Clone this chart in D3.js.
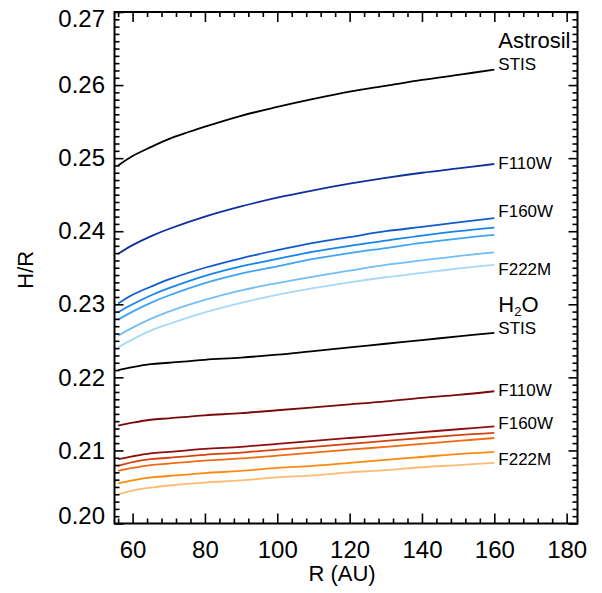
<!DOCTYPE html>
<html><head><meta charset="utf-8">
<script src="https://cdn.jsdelivr.net/npm/d3@7"></script>
<style>
html,body{margin:0;padding:0;background:#fff;}
text{font-family:"Liberation Sans",Arial,Helvetica,sans-serif;fill:#000;}
</style></head>
<body><svg id="c" width="602" height="593"></svg>
<script>
// ---- data ----
const radius = [56,60,65,70,80,90,100,110,120,130,140,150,160];
const astroSTIS  = [0.2490,0.2503,0.2515,0.2526,0.2543,0.2558,0.2570,0.2581,0.2591,0.2599,0.2607,0.2614,0.2621];
const astroF110W = [0.2369,0.2381,0.2393,0.2403,0.2420,0.2434,0.2446,0.2456,0.2465,0.2473,0.2480,0.2486,0.2492];
const astroF160W = [0.2301,0.2313,0.2324,0.2334,0.2350,0.2363,0.2374,0.2384,0.2392,0.2400,0.2406,0.2412,0.2418];
const astroB4    = [0.2289,0.2300,0.2312,0.2322,0.2339,0.2352,0.2362,0.2372,0.2380,0.2387,0.2394,0.2400,0.2405];
const astroB5    = [0.2279,0.2290,0.2302,0.2312,0.2329,0.2342,0.2352,0.2362,0.2370,0.2377,0.2384,0.2390,0.2395];
const astroB6    = [0.2257,0.2268,0.2280,0.2290,0.2306,0.2319,0.2329,0.2338,0.2346,0.2354,0.2360,0.2366,0.2371];
const astroF222M = [0.2241,0.2252,0.2264,0.2273,0.2289,0.2302,0.2313,0.2322,0.2330,0.2337,0.2343,0.2349,0.2354];
const h2oSTIS    = [0.2210,0.2214,0.2218,0.2220,0.2224,0.2227,0.2231,0.2236,0.2241,0.2246,0.2251,0.2256,0.2261];
const h2oF110W   = [0.2134,0.2138,0.2142,0.2144,0.2148,0.2151,0.2155,0.2159,0.2163,0.2167,0.2172,0.2176,0.2181];
const h2oF160W   = [0.2088,0.2092,0.2096,0.2098,0.2102,0.2105,0.2109,0.2113,0.2117,0.2121,0.2125,0.2129,0.2133];
const h2oB4      = [0.2079,0.2084,0.2088,0.2090,0.2094,0.2097,0.2101,0.2105,0.2109,0.2113,0.2117,0.2121,0.2124];
const h2oB5      = [0.2072,0.2076,0.2080,0.2082,0.2086,0.2089,0.2093,0.2097,0.2101,0.2105,0.2109,0.2113,0.2117];
const h2oB6      = [0.2055,0.2059,0.2063,0.2065,0.2069,0.2072,0.2076,0.2079,0.2083,0.2087,0.2091,0.2095,0.2098];
const h2oF222M   = [0.2040,0.2045,0.2049,0.2052,0.2056,0.2059,0.2063,0.2066,0.2070,0.2073,0.2077,0.2080,0.2083];

const seriesList = [
  {v: astroSTIS,  c:"#000000"},
  {v: astroF110W, c:"#0e2f9e"},
  {v: astroF160W, c:"#115ccc"},
  {v: astroB4,    c:"#1686ec"},
  {v: astroB5,    c:"#40a4f5"},
  {v: astroB6,    c:"#72bff7"},
  {v: astroF222M, c:"#a7d9f8"},
  {v: h2oSTIS,    c:"#000000"},
  {v: h2oF110W,   c:"#7a0a0a"},
  {v: h2oF160W,   c:"#8c0e0e"},
  {v: h2oB4,      c:"#d6420e"},
  {v: h2oB5,      c:"#f06c12"},
  {v: h2oB6,      c:"#ff8a10"},
  {v: h2oF222M,   c:"#ffbb74"}
];

const xTicks = [60,80,100,120,140,160,180];
const yTicks = [0.20,0.21,0.22,0.23,0.24,0.25,0.26,0.27];
const yTickLabels = ["0.20","0.21","0.22","0.23","0.24","0.25","0.26","0.27"];

// annotation labels: text, size, anchor value (H/R at baseline)
const annotations = [
  {t:"Astrosil", s:22, v:0.2651},
  {t:"STIS",  s:17, v:0.2621},
  {t:"F110W", s:17, v:0.2485},
  {t:"F160W", s:17, v:0.2420},
  {t:"F222M", s:17, v:0.2340},
  {t:"H2O",   s:22, v:0.2289},
  {t:"STIS",  s:17, v:0.2260},
  {t:"F110W", s:17, v:0.2174},
  {t:"F160W", s:17, v:0.2129},
  {t:"F222M", s:17, v:0.2080}
];

// ---- layout ----
const L = 114.5, Rr = 577.5, T = 12, B = 523.5;
const x = d3.scaleLinear().domain([55,183]).range([L,Rr]);
const y = d3.scaleLinear().domain([0.20,0.27]).range([B,T]);
const svg = d3.select("#c");

// lines
const line = d3.line().x((d,i)=>x(radius[i])).y(d=>y(d)).curve(d3.curveCatmullRom.alpha(0.5));
svg.append("g").selectAll("path").data(seriesList).join("path")
  .attr("d", d=>line(d.v)).attr("fill","none")
  .attr("stroke", d=>d.c).attr("stroke-width",1.8);

// minor ticks
const xMinor = d3.range(56,181,4).filter(v=>!xTicks.includes(v));
const yMinor = d3.range(201,270,1).filter(v=>v%10!==0).map(v=>v/1000);

function axisG(axis, tx, ty){
  const g = svg.append("g").attr("transform",`translate(${tx},${ty})`).call(axis);
  g.select(".domain").remove();
  g.selectAll("line").attr("stroke","#000").attr("stroke-width",1.6);
  return g;
}
axisG(d3.axisBottom(x).tickValues(xMinor).tickSize(-5).tickFormat(""),0,B);
axisG(d3.axisTop(x).tickValues(xMinor).tickSize(-5).tickFormat(""),0,T);
axisG(d3.axisTop(x).tickValues(xTicks).tickSize(-10).tickFormat(""),0,T);
axisG(d3.axisLeft(y).tickValues(yMinor).tickSize(-5).tickFormat(""),L,0);
axisG(d3.axisRight(y).tickValues(yMinor).tickSize(-5).tickFormat(""),Rr,0);
axisG(d3.axisRight(y).tickValues(yTicks).tickSize(-9).tickFormat(""),Rr,0);

const xb = axisG(d3.axisBottom(x).tickValues(xTicks).tickSize(-10).tickPadding(17).tickFormat(d3.format("d")),0,B);
xb.selectAll("text").attr("font-size",24).attr("fill","#000")
  .style("font-family",'"Liberation Sans",Arial,sans-serif');

const yl = axisG(d3.axisLeft(y).tickValues(yTicks).tickSize(-9).tickPadding(9.5).tickFormat((d,i)=>yTickLabels[i]),L,0);
yl.selectAll("text").attr("font-size",24).attr("fill","#000")
  .style("font-family",'"Liberation Sans",Arial,sans-serif')
  .attr("dy",(d)=> d===0.27 ? "0.62em" : (d===0.20 ? "0.02em" : "0.32em"));

// frame
svg.append("rect").attr("x",L).attr("y",T).attr("width",Rr-L).attr("height",B-T)
  .attr("fill","none").attr("stroke","#000").attr("stroke-width",2);

// annotations
const ax = x(160)+4;
annotations.forEach(a=>{
  const t = svg.append("text").attr("x",ax).attr("y",y(a.v)).attr("font-size",a.s);
  if(a.t==="H2O"){
    t.append("tspan").text("H");
    t.append("tspan").attr("font-size",13).attr("dy",4).text("2");
    t.append("tspan").attr("dy",-4).text("O");
  } else t.text(a.t);
});

// axis titles
svg.append("text").attr("x",(L+Rr)/2 - 4).attr("y",581).attr("text-anchor","middle")
  .attr("font-size",22).text("R (AU)");
svg.append("text").attr("transform",`translate(33,${(T+B)/2 + 2}) rotate(-90)`)
  .attr("text-anchor","middle").attr("font-size",22).text("H/R");
</script></body></html>
